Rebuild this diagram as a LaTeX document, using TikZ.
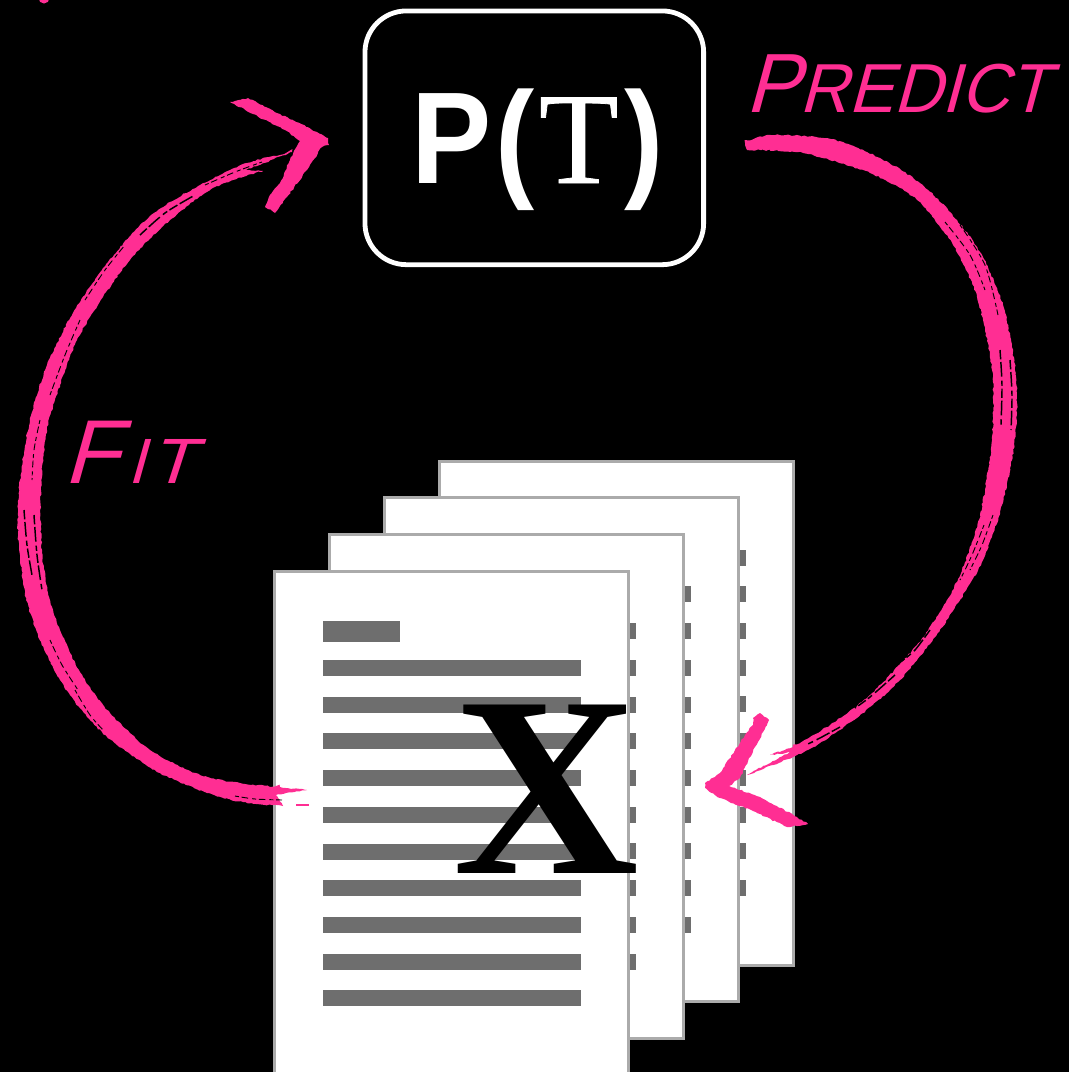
\documentclass[tikz,border=0pt]{standalone}
\usepackage{fontspec}
\usetikzlibrary{decorations.pathmorphing}
\setmainfont{Liberation Serif}
\newfontfamily\sansbold[Ligatures=TeX]{Liberation Sans Bold}
\newfontfamily\handfont[FakeSlant=0.28]{Liberation Sans}
\newfontfamily\serifheavy[FakeBold=0.6]{Liberation Serif}
\definecolor{brush}{HTML}{FF2E93}
\definecolor{barcol}{HTML}{6E6E6E}
\definecolor{pageedge}{HTML}{ABABAB}
\tikzset{
  rough/.style={fill=brush,decorate,decoration={random steps,segment length=2pt,amplitude=.55pt}},
  streak/.style={draw=black,line width=1.1pt,dash pattern=on 7pt off 2pt on 11pt off 3pt on 4pt off 2pt},
  fine/.style={draw=black,line width=.7pt,dash pattern=on 3pt off 2pt on 5pt off 3pt},
  pagebox/.style={fill=white,draw=pageedge,line width=2.25pt},
  bar/.style={fill=barcol},
  handtext/.style={text=brush,inner sep=0pt,anchor=base west},
}
\begin{document}
\begin{tikzpicture}[x=.75pt,y=-.75pt]
\pgfmathsetseed{4242}
\useasboundingbox (0,0) rectangle (1069,1072);
\fill[black] (0,0) rectangle (1069,1072);
\begin{scope}
\clip (0,0) rectangle (1069,1072);
% pages, back to front
\foreach \n/\dx/\dy in {4/165/-110.4,3/110/-73.6,2/55/-36.8,1/0/0}{
  \begin{scope}[shift={(\dx,\dy)}]
    \draw[pagebox] (274.5,571.5) rectangle (628,1075.5);
    \fill[bar] (323,620.7) rectangle (400,642);
    \foreach \k in {0,...,9}{
      \fill[bar] (323,660+36.7*\k) rectangle (580.7,676+36.7*\k);
    }
  \end{scope}
}
\node[anchor=base,inner sep=0pt,text=black] (xlabel) at (546,873)
  {\fontsize{193}{193}\selectfont\bfseries X};
% formula box
\node[draw=white,fill=black,line width=3.6pt,rounded corners=31pt,minimum width=254pt,minimum height=190.3pt,inner sep=0pt] (box) at (534.3,137.8) {};
\node[anchor=base west,inner sep=0pt,text=white] (formula) at (411,183)
  {\fontsize{98}{98}\selectfont\scalebox{.92}[1]{\sansbold P}\kern3pt\scalebox{.9}[1]{\sansbold (}\kern3.2pt{\serifheavy T}\kern4.2pt\scalebox{.9}[1]{\sansbold )}};

% right (Predict) brush arc
\fill[rough] plot[smooth] coordinates {(745,143) (770,135) (830,139) (880,158) (920,183) (950,212) (980,252) (1003,305) (1015,367) (1017,413) (1012,460) (1000,512) (983,560) (960,600) (935,637) (900,680) (863,713) (820,743) (793,757) (747,775)}
  -- (790,752) -- (770,755)
  -- plot[smooth] coordinates {(793,747) (830,725) (870,695) (917,645) (943,607) (962,570) (980,515) (992,440) (992,370) (977,297) (953,245) (917,200) (870,173) (803,153) (747,150)} -- cycle;
% right arrow head
\fill[rough] (705,783) -- (720,773) -- (745,735) -- (753,725) -- (753,718) -- (760,713) -- (769,720) -- (763,732) -- (755,747) -- (740,778) -- (729,786) -- (760,797) -- (797,817) -- (808,824) -- (787,827) -- (753,811) -- (720,798) -- (705,788) -- cycle;
% left (Fit) brush arc
\fill[rough] plot[smooth] coordinates {(292,152) (247,163) (200,185) (150,216) (108,262) (73,313) (47,365) (30,420) (20,480) (18,533) (25,593) (38,635) (60,680) (87,717) (117,745) (160,773) (207,793) (243,802) (283,806)}
  -- (276,795) -- (307,790)
  -- plot[smooth] coordinates {(280,787) (240,783) (200,775) (150,750) (110,713) (83,677) (63,637) (50,600) (42,553) (41,490) (47,430) (60,385) (77,340) (103,297) (133,256) (170,220) (207,192) (233,180) (263,171)}
  -- (246,170) -- cycle;
\fill[brush] (296,804) rectangle (309,806);
% left arrow head
\fill[rough] (230,102) -- (248,98) -- (280,114) -- (317,132) -- (328,138) -- (329,145) -- (322,147) -- (307,170) -- (287,197) -- (275,213) -- (265,207) -- (270,195) -- (280,183) -- (290,160) -- (300,141) -- (285,130) -- (253,114) -- cycle;
% dry-brush streaks
\path[streak] plot[smooth] coordinates {(1000,350) (1002,385) (1001,425)};
\path[streak] plot[smooth] coordinates {(1010,360) (1012,395) (1011,430)};
\path[fine] plot[smooth] coordinates {(945,222) (970,255) (985,290)};
\path[fine] plot[smooth] coordinates {(960,225) (985,265) (998,315)};
\path[fine] plot[smooth] coordinates {(993,515) (982,545) (970,570)};
\path[fine] plot[smooth] coordinates {(984,525) (972,555) (960,580)};
\path[streak] plot[smooth] coordinates {(930,630) (915,650) (903,660)};
\path[streak] plot[smooth] coordinates {(895,675) (870,697) (855,708)};
\path[streak] plot[smooth] coordinates {(840,727) (820,738) (808,744)};
\path[streak] plot[smooth] coordinates {(24,510) (27,545) (32,575)};
\path[streak] plot[smooth] coordinates {(34,515) (37,555) (42,590)};
\path[fine] plot[smooth] coordinates {(40,420) (34,450) (32,480)};
\path[fine] plot[smooth] coordinates {(50,640) (62,665) (78,690)};
\path[fine] plot[smooth] coordinates {(75,690) (90,715) (105,732)};
\path[fine] plot[smooth] coordinates {(50,395) (65,355) (80,320)};
\path[fine] plot[smooth] coordinates {(85,300) (105,270) (125,245)};
\path[streak] plot[smooth] coordinates {(140,235) (165,213) (195,195)};
\path[fine] plot[smooth] coordinates {(205,185) (235,172) (262,162)};
\path[fine] plot[smooth] coordinates {(235,796) (255,799) (282,800)};
\fill[brush] (44,-2) circle (5.5);
% labels
\node[handtext] (predict) at (745,112)
  {\scalebox{.97}[1]{\fontsize{63}{63}\handfont P\fontsize{52}{52}\selectfont REDICT}};
\node[handtext] (fit) at (63,483)
  {\fontsize{68}{68}\handfont F\kern 7pt\fontsize{48}{48}\selectfont I\kern 3pt\scalebox{1.15}[1]{T}};
\end{scope}
\end{tikzpicture}
\end{document}
